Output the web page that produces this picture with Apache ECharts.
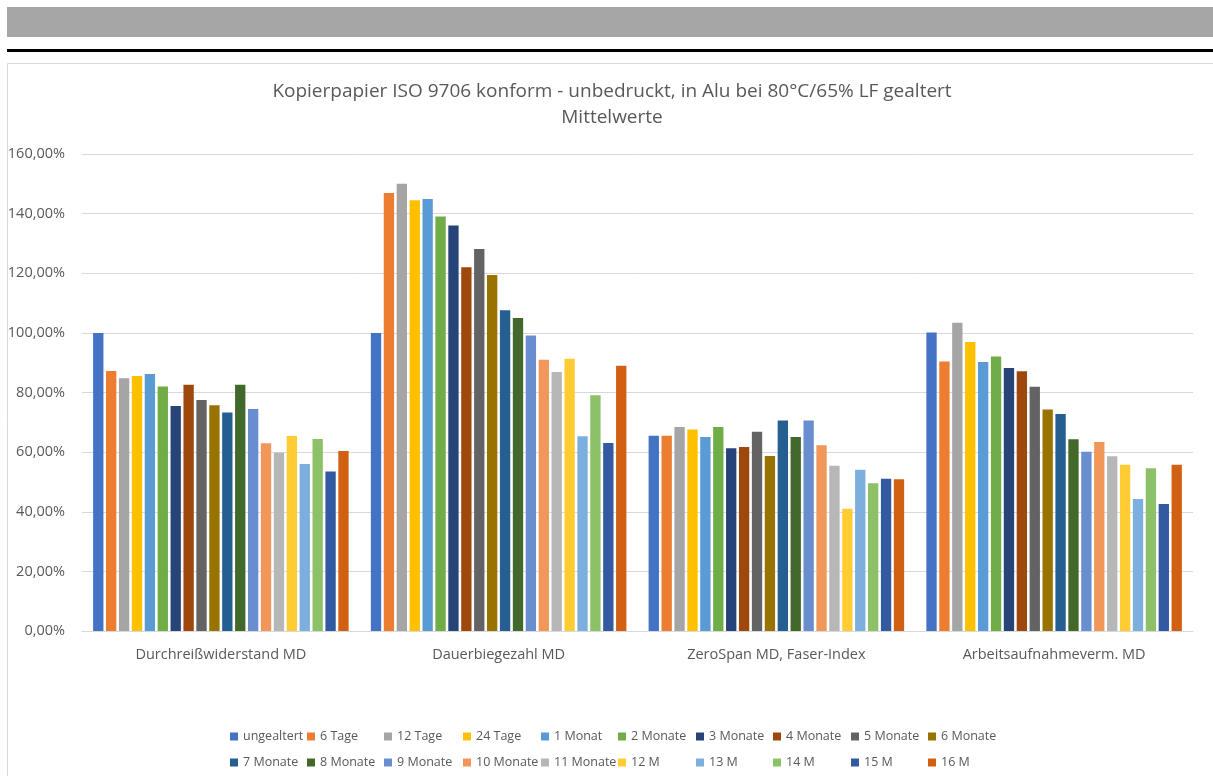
<!DOCTYPE html>
<html>
<head>
<meta charset="utf-8">
<script src="https://cdn.jsdelivr.net/npm/echarts@6/dist/echarts.min.js"></script>
<style>
html, body { margin: 0; padding: 0; background: #fff; }
#chart { width: 1213px; height: 776px; }
</style>
</head>
<body>
<div id="chart"></div>
<script>
// Kategorien (Prüfgrößen)
const categories = [
  'Durchreißwiderstand MD',
  'Dauerbiegezahl MD',
  'ZeroSpan MD, Faser-Index',
  'Arbeitsaufnahmeverm. MD'
]

// Alterungsstufen
const seriesNames = [
  'ungealtert', '6 Tage', '12 Tage', '24 Tage', '1 Monat', '2 Monate', '3 Monate',
  '4 Monate', '5 Monate', '6 Monate', '7 Monate', '8 Monate', '9 Monate',
  '10 Monate', '11 Monate', '12 M', '13 M', '14 M', '15 M', '16 M'
]

// Mittelwerte in % je Kategorie (Reihenfolge wie seriesNames)
const durchreiss = [100, 87.2, 84.8, 85.5, 86.2, 82.0, 75.5, 82.6, 77.5, 75.7, 73.3, 82.6, 74.5, 63.0, 59.8, 65.4, 56.0, 64.4, 53.5, 60.4]
const dauerbiege = [100, 146.9, 150.0, 144.5, 144.9, 139.0, 136.0, 122.0, 128.1, 119.4, 107.6, 105.0, 99.1, 91.0, 86.9, 91.3, 65.3, 79.1, 63.1, 89.0]
const zeroSpan = [65.5, 65.5, 68.4, 67.6, 65.1, 68.4, 61.3, 61.7, 66.8, 58.7, 70.6, 65.1, 70.6, 62.3, 55.4, 41.0, 54.1, 49.6, 51.1, 50.9]
const arbeitsaufnahme = [100.1, 90.4, 103.4, 96.9, 90.2, 92.1, 88.2, 87.1, 81.9, 74.3, 72.8, 64.3, 60.1, 63.4, 58.6, 55.8, 44.3, 54.6, 42.6, 55.8]

const yTicks = [0, 20, 40, 60, 80, 100, 120, 140, 160]

const colors = [
  '#4472C4', '#ED7D31', '#A5A5A5', '#FFC000', '#5B9BD5', '#70AD47',
  '#264478', '#9E480E', '#636363', '#997300', '#255E91', '#43682B',
  '#698ED0', '#F1975A', '#B7B7B7', '#FFCD33', '#7CAFDD', '#8CC168',
  '#335AA1', '#D26012'
]

const font = '"Open Sans", "Noto Sans", sans-serif'
const textColor = '#595959'

// Legendenspalten (x) und Zeilen (y) wie in Excel
const legendCols = [230, 307, 384, 463, 541, 618, 696, 773, 851, 928]
const legendRows = [730, 756]

const chartDom = document.getElementById('chart')
const myChart = echarts.init(chartDom)

const series = seriesNames.map((name, i) => ({
  name: name,
  type: 'bar',
  barGap: '25%',
  barCategoryGap: '8%',
  itemStyle: { color: colors[i] },
  data: [durchreiss[i], dauerbiege[i], zeroSpan[i], arbeitsaufnahme[i]]
}))

const legends = seriesNames.map((name, i) => ({
  orient: 'horizontal',
  left: legendCols[i % 10],
  top: legendRows[Math.floor(i / 10)],
  padding: 0,
  itemWidth: 8,
  itemHeight: 8,
  icon: 'rect',
  data: [name],
  textStyle: {
    fontFamily: font,
    fontSize: 12.5,
    color: textColor
  }
}))

let option = {
  animation: false,
  color: colors,
  title: {
    text: 'Kopierpapier ISO 9706 konform - unbedruckt, in Alu bei 80°C/65% LF gealtert\nMittelwerte',
    left: 607,
    top: 74,
    textAlign: 'center',
    textStyle: {
      fontFamily: font,
      fontSize: 19,
      fontWeight: 'normal',
      color: textColor,
      lineHeight: 26
    }
  },
  graphic: [
    { type: 'rect', shape: { x: 7, y: 7, width: 1206, height: 30 }, style: { fill: '#A6A6A6' } },
    { type: 'rect', shape: { x: 7, y: 49, width: 1206, height: 3 }, style: { fill: '#000' } },
    { type: 'rect', shape: { x: 7.5, y: 63.5, width: 1210, height: 720 }, style: { fill: 'none', stroke: '#D9D9D9', lineWidth: 1 } }
  ],
  legend: legends,
  grid: {
    left: 82,
    right: 20,
    top: 154,
    bottom: 145,
    containLabel: false
  },
  xAxis: {
    type: 'category',
    data: categories,
    axisLine: { lineStyle: { color: '#D9D9D9', width: 1 } },
    axisTick: { show: false },
    axisLabel: {
      fontFamily: font,
      fontSize: 14.5,
      color: textColor,
      margin: 16
    }
  },
  yAxis: {
    type: 'value',
    min: yTicks[0],
    max: yTicks[yTicks.length - 1],
    interval: 20,
    axisLine: { show: false },
    axisTick: { show: false },
    splitLine: { lineStyle: { color: '#D9D9D9', width: 1 } },
    axisLabel: {
      fontFamily: font,
      fontSize: 14.5,
      color: textColor,
      margin: 17,
      formatter: (v) => v.toFixed(2).replace('.', ',') + '%'
    }
  },
  series: series
}

option && myChart.setOption(option)
window.addEventListener('resize', function () {
  myChart.resize()
})
</script>
</body>
</html>
